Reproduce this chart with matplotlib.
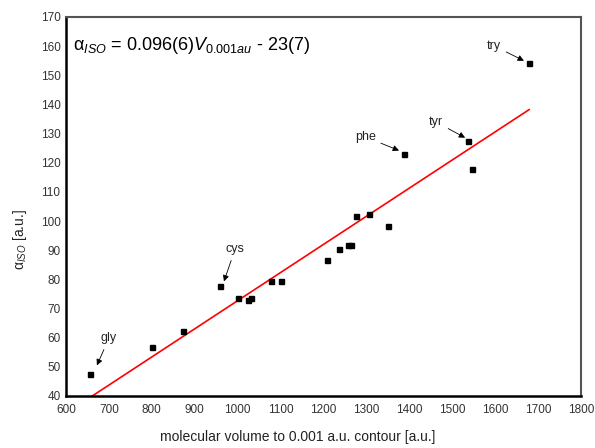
import numpy as np
import matplotlib
matplotlib.use("Agg")
import matplotlib.pyplot as plt

plt.rcParams['font.family'] = ['Liberation Sans', 'DejaVu Sans']
plt.rcParams['mathtext.fontset'] = 'custom'
plt.rcParams['mathtext.rm'] = 'Liberation Sans'
plt.rcParams['mathtext.it'] = 'Liberation Sans:italic'

# molecular volume (a.u.) vs isotropic polarizability (a.u.)
volume = [656, 800, 873, 959, 1001, 1024, 1031, 1078, 1101, 1208, 1236,
          1257, 1263, 1276, 1306, 1350, 1387, 1537, 1546, 1679]
alpha_iso = [47.5, 56.8, 62.3, 77.7, 73.6, 73.0, 73.6, 79.4, 79.4, 86.6, 90.4,
             91.8, 91.8, 101.7, 102.4, 98.3, 123.0, 127.5, 117.9, 154.2]

# fitted line: alpha = 0.096 V - 23
slope, intercept = 0.0965, -23.8
fit_x = np.array([661, 1679])

# labels: name, arrow tip (x, y), text position (x, y)
labels = ["gly", "cys", "phe", "tyr", "try"]
tips = [(672, 50.5), (968, 79.3), (1376, 124.2), (1530, 128.6), (1667, 155.0)]
text_pos = [(700, 59.8), (994, 90.4), (1297, 128.9), (1462, 134.0), (1597, 160.1)]

fig = plt.figure(figsize=(5.95, 4.48), dpi=100)
ax = fig.add_axes([66 / 595, 1 - 396 / 448, 515 / 595, 379 / 448])

ax.plot(fit_x, slope * fit_x + intercept, color='red', lw=1.2, zorder=2)
ax.plot(volume, alpha_iso, 's', color='black', ms=3.6, zorder=3)

for name, tip, tpos in zip(labels, tips, text_pos):
    ax.annotate(name, xy=tip, xytext=tpos, ha='center', va='center',
                fontsize=9, color='#222222',
                arrowprops=dict(arrowstyle='-|>', color='black', lw=0.6,
                                mutation_scale=9, shrinkA=2, shrinkB=0))

ax.text(0.014, 0.926, r'$\mathrm{\alpha}_{ISO}$ = 0.096(6)$V_{0.001au}$ - 23(7)',
        transform=ax.transAxes, fontsize=13, va='center', ha='left')

ax.set_xlim(600, 1800)
ax.set_ylim(40, 170)
ax.set_xticks(np.arange(600, 1801, 100))
ax.set_yticks(np.arange(40, 171, 10))
ax.tick_params(length=0, labelsize=8.5, labelcolor='#333333')
ax.tick_params(axis='x', pad=6)
ax.tick_params(axis='y', pad=4)

for side in ['left', 'bottom']:
    ax.spines[side].set_color('black')
    ax.spines[side].set_linewidth(1.8)
for side in ['top', 'right']:
    ax.spines[side].set_color('#555555')
    ax.spines[side].set_linewidth(1.5)

fig.text(0.5, 1 - 437 / 448, 'molecular volume to 0.001 a.u. contour [a.u.]',
         ha='center', va='center', fontsize=10, color='#222222')
fig.text(20 / 595, 1 - 240 / 448, r'$\mathrm{\alpha}_{ISO}$ [a.u.]', rotation=90,
         ha='center', va='center', fontsize=10, color='#222222')

fig.savefig('out.png', dpi=100)
